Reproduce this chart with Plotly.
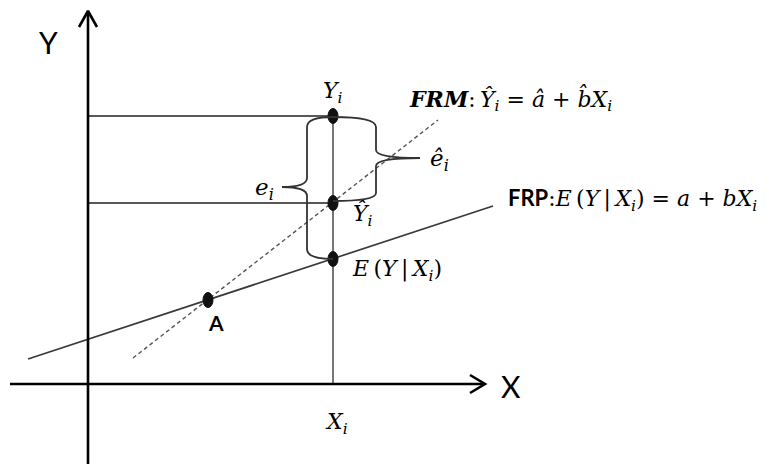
import plotly.graph_objects as go

# diagram coordinates (pixel-like, y grows downward)
x_i = 333
y_obs = 116      # Y_i
y_fit = 203      # Y-hat_i
y_exp = 259      # E(Y|X_i)
a_pt = [208, 300]

frp_x = [28, 493]
frp_y = [359, 206]
frm_x = [133, 438]
frm_y = [358, 120]

yaxis_x = 88
xaxis_y = 384

serif = "DejaVu Serif"
sans = "Lato"
th = "\u2009"  # thin space, Cambria Math spacing is loose

fig = go.Figure()

# regression lines
fig.add_trace(go.Scatter(x=frp_x, y=frp_y, mode="lines",
                         line=dict(color="#3a3a3a", width=1.7), hoverinfo="skip"))
fig.add_trace(go.Scatter(x=frm_x, y=frm_y, mode="lines",
                         line=dict(color="#555", width=1.4, dash="4px,3px"), hoverinfo="skip"))

# horizontal guides from Y axis to the points
for yy in [y_obs, y_fit]:
    fig.add_trace(go.Scatter(x=[yaxis_x, x_i], y=[yy, yy], mode="lines",
                             line=dict(color="#222", width=1.5), hoverinfo="skip"))

# vertical line at X_i
fig.add_trace(go.Scatter(x=[x_i, x_i], y=[y_obs, xaxis_y], mode="lines",
                         line=dict(color="#555", width=1.6), hoverinfo="skip"))

# axes
fig.add_trace(go.Scatter(x=[yaxis_x, yaxis_x], y=[470, 11], mode="lines",
                         line=dict(color="black", width=2.6), hoverinfo="skip"))
fig.add_trace(go.Scatter(x=[10, 485], y=[xaxis_y, xaxis_y], mode="lines",
                         line=dict(color="black", width=2.6), hoverinfo="skip"))
# arrow heads
fig.add_trace(go.Scatter(x=[yaxis_x - 9, yaxis_x, yaxis_x + 9], y=[27, 11, 27], mode="lines",
                         line=dict(color="black", width=2.6), hoverinfo="skip"))
fig.add_trace(go.Scatter(x=[470, 485, 470], y=[xaxis_y - 9, xaxis_y, xaxis_y + 9], mode="lines",
                         line=dict(color="black", width=2.6), hoverinfo="skip"))

shapes = []
# points as small vertical ellipses
for px_, py_ in [(x_i, y_obs), (x_i, y_fit), (x_i, y_exp), tuple(a_pt)]:
    shapes.append(dict(type="circle", xref="x", yref="y",
                       x0=px_ - 5, x1=px_ + 5, y0=py_ - 7.5, y1=py_ + 7.5,
                       fillcolor="#111", line=dict(color="#111", width=1)))

# left brace (e_i) between Y_i and E(Y|X_i)
bx = 307
mid = 187
shapes.append(dict(type="path", xref="x", yref="y",
                   path=f"M {x_i},{y_obs + 1} Q {bx},{y_obs + 1} {bx},{y_obs + 11} "
                        f"L {bx},{mid - 9} Q {bx},{mid} {282},{mid} "
                        f"Q {bx},{mid} {bx},{mid + 9} "
                        f"L {bx},{y_exp - 10} Q {bx},{y_exp} {x_i},{y_exp}",
                   line=dict(color="#333", width=1.8)))

# right brace (e-hat_i) between Y_i and Y-hat_i
rx = 376
mid2 = 158
shapes.append(dict(type="path", xref="x", yref="y",
                   path=f"M {x_i},{y_obs + 1} Q {rx},{y_obs + 1} {rx},{y_obs + 11} "
                        f"L {rx},{mid2 - 8} Q {rx},{mid2} {420},{mid2} "
                        f"Q {rx},{mid2} {rx},{mid2 + 8} "
                        f"L {rx},{y_fit - 10} Q {rx},{y_fit - 2} {x_i},{y_fit - 2}",
                   line=dict(color="#333", width=1.8)))

ann = []


def txt(x, y, text, size=20, family=serif, xanchor="left", color="black"):
    ann.append(dict(x=x, y=y, xref="x", yref="y", text=text, showarrow=False,
                    xanchor=xanchor, yanchor="middle",
                    font=dict(family=family, size=size, color=color)))


txt(48, 42, "Y", size=30, family=sans, xanchor="center")
txt(511, 386, "X", size=30, family=sans, xanchor="center")
txt(216, 322, "<b>A</b>", size=21, family=sans, xanchor="center")
txt(x_i, 92, "<i>Y<sub>i</sub></i>", size=22, xanchor="center")
txt(407, 99, f"<b><i>FRM</i></b>:{th}<i>Ŷ<sub>i</sub></i> = <i>â</i> + <i>b̂X<sub>i</sub></i>", size=22)
txt(506, 199, f"<b><span style='font-family:Lato'>FRP</span></b>:<i>E</i>{th}(<i>Y</i>{th}|{th}<i>X<sub>i</sub></i>) = <i>a</i> + <i>bX<sub>i</sub></i>", size=22)
txt(350, 270, f"<i>E</i>{th}(<i>Y</i>{th}|{th}<i>X<sub>i</sub></i>)", size=22)
txt(428, 160, "<i>ê<sub>i</sub></i>", size=23)
txt(276, 189, "<i>e<sub>i</sub></i>", size=23, xanchor="right")
txt(351, 215, "<i>Ŷ<sub>i</sub></i>", size=22)
txt(336, 423, "<i>X<sub>i</sub></i>", size=22, xanchor="center")

# the page body adds an 8 px offset, so ranges start at 8
fig.update_layout(
    width=769, height=464,
    margin=dict(l=0, r=0, t=0, b=0),
    paper_bgcolor="white", plot_bgcolor="white",
    showlegend=False,
    xaxis=dict(range=[8, 777], visible=False, fixedrange=True),
    yaxis=dict(range=[472, 8], visible=False, fixedrange=True),
    shapes=shapes, annotations=ann,
)

fig.write_html("out.html")
